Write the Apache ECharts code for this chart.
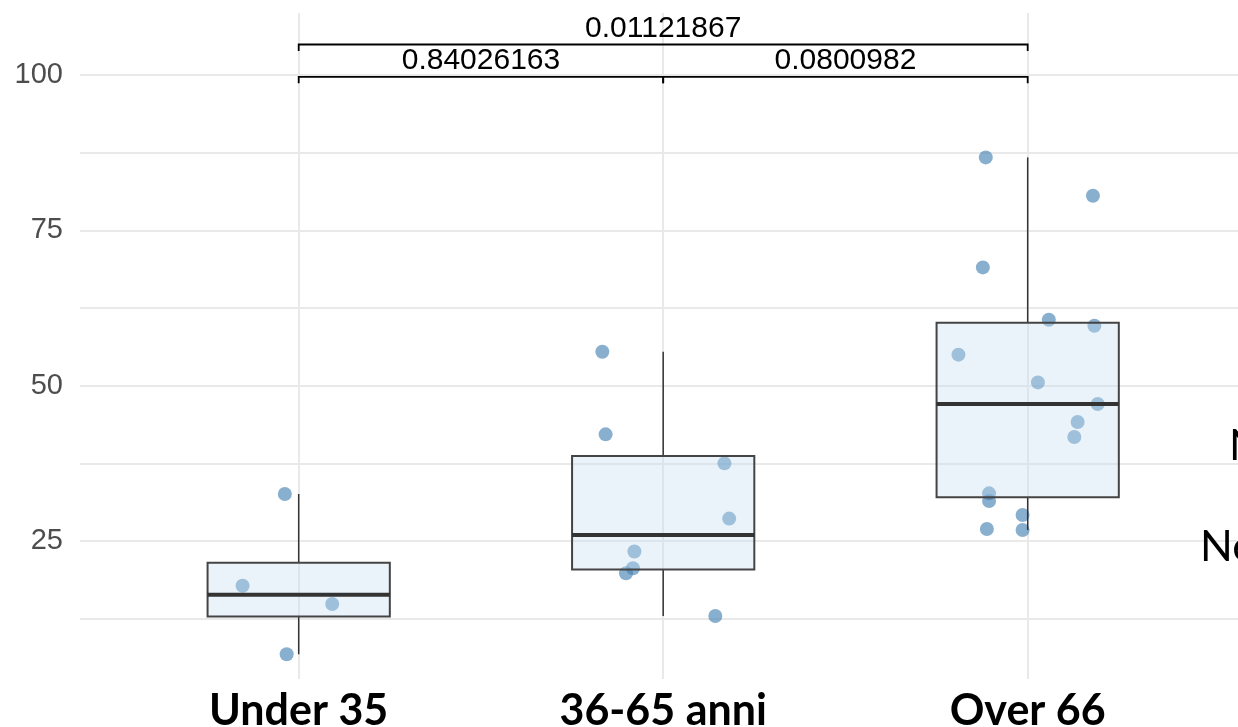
<!DOCTYPE html>
<html><head><meta charset="utf-8">
<script src="https://cdn.jsdelivr.net/npm/echarts@6/dist/echarts.min.js"></script>
<style>html,body{margin:0;padding:0;background:#fff;overflow:hidden}#c{width:1238px;height:727px}</style>
</head><body><div id="c"></div>
<script>
// ---- data ----
const categories = ['Under 35', '36-65 anni', 'Over 66'];
const under35 = [32.56, 17.8, 14.86, 6.76];
const under35Jitter = [-0.038, -0.154, 0.092, -0.033];
const anni3665 = [55.47, 42.17, 37.5, 28.6, 23.3, 20.6, 19.8, 12.92];
const anni3665Jitter = [-0.167, -0.158, 0.168, 0.181, -0.079, -0.083, -0.102, 0.143];
const over66 = [86.75, 80.58, 69.04, 60.62, 59.65, 55.0, 50.53, 47.05, 44.15, 41.73, 32.67, 31.43, 29.18, 26.93, 26.77];
const over66Jitter = [-0.115, 0.179, -0.123, 0.058, 0.183, -0.19, 0.028, 0.192, 0.137, 0.128, -0.106, -0.106, -0.014, -0.112, -0.014];
const yTickLabels = [25, 50, 75, 100];
const yGridValues = [12.5, 25, 37.5, 50, 62.5, 75, 87.5, 100];
const comparisonFrom = [0, 1, 0];
const comparisonTo = [1, 2, 2];
const comparisonP = ['0.84026163', '0.0800982', '0.01121867'];
const comparisonRow = [0, 0, 1];

// ---- derived ----
const groups = [under35, anni3665, over66];
const jitters = [under35Jitter, anni3665Jitter, over66Jitter];
function quant(s, p) {
  const h = (s.length - 1) * p, lo = Math.floor(h);
  const hiV = lo + 1 < s.length ? s[lo + 1] : s[lo];
  return s[lo] + (h - lo) * (hiV - s[lo]);
}
const boxData = groups.map((g, i) => {
  const s = g.slice().sort((a, b) => a - b);
  const q1 = quant(s, 0.25), med = quant(s, 0.5), q3 = quant(s, 0.75);
  const iqr = q3 - q1;
  const lo = s.filter(v => v >= q1 - 1.5 * iqr)[0];
  const inHi = s.filter(v => v <= q3 + 1.5 * iqr);
  const hi = inHi[inHi.length - 1];
  return [i, lo, q1, med, q3, hi];
});
const pointData = [];
groups.forEach((g, i) => g.forEach((v, k) => pointData.push([i + jitters[i][k], v])));
const bracketData = comparisonP.map((p, k) => [comparisonFrom[k], comparisonTo[k], comparisonRow[k]]);

const chart = echarts.init(document.getElementById('c'), null, {renderer: 'canvas'});
const gridColor = '#e9e9e9';
chart.setOption({
  animation: false,
  backgroundColor: '#fff',
  grid: {left: 80, right: 0, top: 13, bottom: 48, containLabel: false, outerBoundsMode: 'none'},
  xAxis: {
    type: 'value', min: -0.6, max: 2.577,
    axisLine: {show: false},
    axisTick: {show: false, customValues: [0, 1, 2]},
    axisLabel: {
      customValues: [0, 1, 2],
      formatter: v => categories[Math.round(v)],
      fontFamily: 'Lato', fontWeight: 'bold', fontSize: 43, color: '#000', margin: 11
    },
    splitLine: {show: true, lineStyle: {color: gridColor, width: 2}}
  },
  yAxis: {
    type: 'value', min: 2.78, max: 110,
    axisLine: {show: false},
    axisTick: {show: false, customValues: yGridValues},
    axisLabel: {
      customValues: yTickLabels,
      fontFamily: 'Liberation Sans', fontSize: 29, color: '#4d4d4d', margin: 17
    },
    splitLine: {show: true, lineStyle: {color: gridColor, width: 2}}
  },
  series: [
    {
      type: 'scatter', data: pointData, symbolSize: 14,
      itemStyle: {color: 'rgba(70,130,180,0.8)'}, z: 2
    },
    {
      type: 'custom', data: boxData, z: 3,
      renderItem: function (params, api) {
        const i = api.value(0), hw = 0.25;
        const tl = api.coord([i - hw, api.value(4)]);
        const br = api.coord([i + hw, api.value(2)]);
        const med = api.coord([i, api.value(3)]);
        const hi = api.coord([i, api.value(5)]);
        const lo = api.coord([i, api.value(1)]);
        return {
          type: 'group',
          children: [
            {type: 'line', shape: {x1: hi[0], y1: hi[1], x2: hi[0], y2: tl[1]}, style: {stroke: '#333', lineWidth: 1.5}},
            {type: 'line', shape: {x1: lo[0], y1: br[1], x2: lo[0], y2: lo[1]}, style: {stroke: '#333', lineWidth: 1.5}},
            {type: 'rect', shape: {x: tl[0], y: tl[1], width: br[0] - tl[0], height: br[1] - tl[1]},
              style: {fill: 'rgba(198,222,240,0.36)', stroke: '#444', lineWidth: 2}},
            {type: 'line', shape: {x1: tl[0], y1: med[1], x2: br[0], y2: med[1]}, style: {stroke: '#333', lineWidth: 4}}
          ]
        };
      }
    },
    {
      type: 'custom', data: bracketData, z: 4, clip: false,
      renderItem: function (params, api) {
        const a = api.value(0), b = api.value(1), row = api.value(2);
        const yLine = 99.73 + row * 5.2, yTick = yLine - 1.05;
        const p1 = api.coord([a, yLine]), p2 = api.coord([b, yLine]);
        const t1 = api.coord([a, yTick]), t2 = api.coord([b, yTick]);
        return {
          type: 'group',
          children: [
            {type: 'polyline', shape: {points: [t1, p1, p2, t2]}, style: {stroke: '#000', lineWidth: 1.8, fill: null}},
            {type: 'text', style: {text: comparisonP[params.dataIndex], x: (p1[0] + p2[0]) / 2, y: p1[1] - 1,
              align: 'center', verticalAlign: 'bottom', font: '30px "Liberation Sans"', fill: '#000'}}
          ]
        };
      }
    }
  ],
  graphic: [
    {type: 'text', x: 1229, y: 446, z: 10, style: {text: 'N', font: '43px Lato', fill: '#000', verticalAlign: 'middle'}},
    {type: 'text', x: 1200, y: 547, z: 10, style: {text: 'Ne', font: '43px Lato', fill: '#000', verticalAlign: 'middle'}}
  ]
});
</script>
</body></html>
